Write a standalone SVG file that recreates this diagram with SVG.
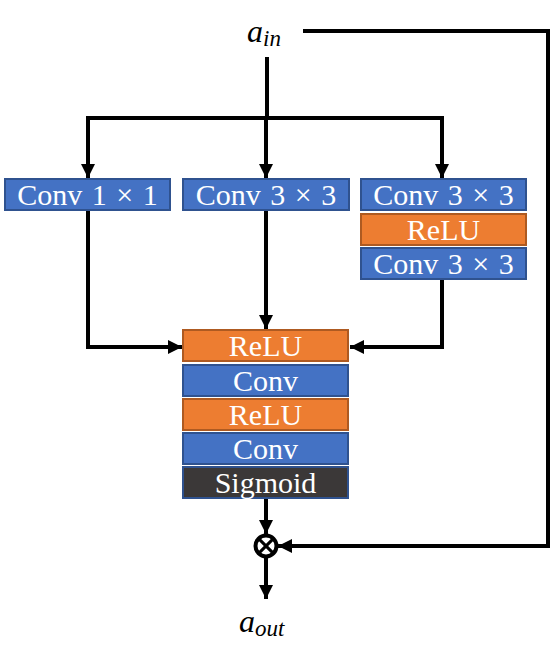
<svg xmlns="http://www.w3.org/2000/svg" width="554" height="645" viewBox="0 0 554 645">
<defs>
<style>
.blue{fill:#4472C4;stroke:#2F528F;stroke-width:2}
.orange{fill:#ED7D31;stroke:#AE5A21;stroke-width:2}
.dark{fill:#3B3838;stroke:#2F528F;stroke-width:2}
.lbl{font-family:"Liberation Serif","Times New Roman",serif;font-size:30px;fill:#fff;text-anchor:middle;word-spacing:2px}
.math{font-family:"Liberation Serif","Times New Roman",serif;font-style:italic;fill:#000}
.ln{fill:none;stroke:#000;stroke-width:4}
</style>
<marker id="ah" markerUnits="userSpaceOnUse" markerWidth="14" markerHeight="14" viewBox="0 0 14 14" refX="14" refY="7" orient="auto">
<path d="M0,0 L14,7 L0,14 Z" fill="#000"/>
</marker>
</defs>
<g id="connectors">
<polyline class="ln" points="303,31 548,31 548,546 278,546" marker-end="url(#ah)"/>
<line class="ln" x1="267" y1="57" x2="267" y2="118"/>
<polyline class="ln" points="88,118 442,118 442,178" marker-end="url(#ah)"/>
<line class="ln" x1="88" y1="116" x2="88" y2="178" marker-end="url(#ah)"/>
<line class="ln" x1="266" y1="118" x2="266" y2="178" marker-end="url(#ah)"/>
<polyline class="ln" points="88,210 88,347 182,347" marker-end="url(#ah)"/>
<line class="ln" x1="266" y1="210" x2="266" y2="329" marker-end="url(#ah)"/>
<polyline class="ln" points="442,279 442,347 350,347" marker-end="url(#ah)"/>
<line class="ln" x1="266" y1="498" x2="266" y2="534" marker-end="url(#ah)"/>
<line class="ln" x1="266" y1="558" x2="266" y2="599" marker-end="url(#ah)"/>
</g>
<g id="a_in"><text class="math" x="247" y="42" font-size="32">a<tspan font-size="23" dy="4">in</tspan></text></g>
<g id="conv1x1"><rect class="blue" x="5" y="179" width="165" height="31"/><text class="lbl" x="87.5" y="205">Conv 1 × 1</text></g>
<g id="conv3x3_mid"><rect class="blue" x="183" y="179" width="166" height="31"/><text class="lbl" x="266" y="205">Conv 3 × 3</text></g>
<g id="conv3x3_r1"><rect class="blue" x="361" y="179" width="165" height="31"/><text class="lbl" x="443.5" y="205">Conv 3 × 3</text></g>
<g id="relu_r"><rect class="orange" x="361" y="214" width="165" height="31"/><text class="lbl" x="443.5" y="240">ReLU</text></g>
<g id="conv3x3_r2"><rect class="blue" x="361" y="248" width="165" height="31"/><text class="lbl" x="443.5" y="274">Conv 3 × 3</text></g>
<g id="relu1"><rect class="orange" x="183" y="330" width="165" height="31"/><text class="lbl" x="265.5" y="356">ReLU</text></g>
<g id="conv1"><rect class="blue" x="183" y="365" width="165" height="31"/><text class="lbl" x="265.5" y="391">Conv</text></g>
<g id="relu2"><rect class="orange" x="183" y="399" width="165" height="31"/><text class="lbl" x="265.5" y="425">ReLU</text></g>
<g id="conv2"><rect class="blue" x="183" y="433" width="165" height="31"/><text class="lbl" x="265.5" y="459">Conv</text></g>
<g id="sigmoid"><rect class="dark" x="183" y="467" width="165" height="31"/><text class="lbl" x="265.5" y="493">Sigmoid</text></g>
<g id="multiply">
<circle cx="266" cy="546" r="10.5" fill="#fff" stroke="#000" stroke-width="4"/>
<line x1="258.6" y1="538.6" x2="273.4" y2="553.4" stroke="#000" stroke-width="3"/>
<line x1="273.4" y1="538.6" x2="258.6" y2="553.4" stroke="#000" stroke-width="3"/>
</g>
<g id="a_out"><text class="math" x="239" y="632" font-size="32">a<tspan font-size="23" dy="4">out</tspan></text></g>
</svg>
